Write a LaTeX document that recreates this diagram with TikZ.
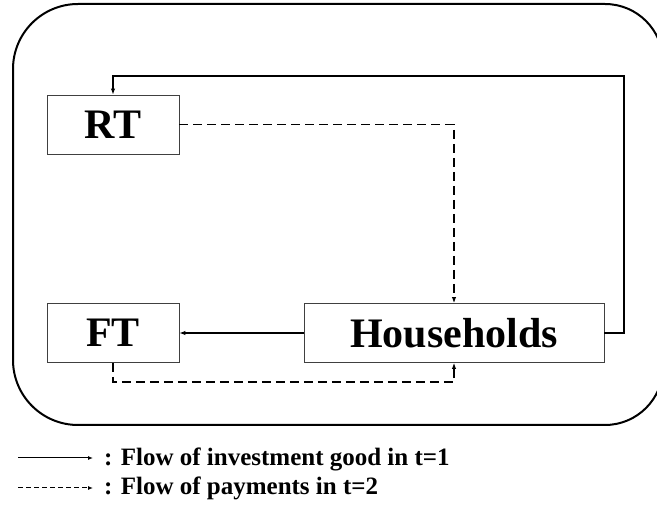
\documentclass[tikz,border=0pt]{standalone}
\usepackage{fontspec}
\setmainfont{Liberation Serif}
\usetikzlibrary{arrows.meta}
\begin{document}
\begin{tikzpicture}[x=1pt,y=-1pt,
  box/.style={draw=black!75,line width=0.9pt,minimum width=132pt,minimum height=59pt,inner sep=0pt,
    font=\fontsize{42}{42}\selectfont\bfseries},
  conn/.style={line width=1.1pt,-{Latex[length=6pt,width=4.5pt]}},
  dconn/.style={conn,dash pattern=on 9pt off 5pt},
  legtxt/.style={anchor=base west,inner sep=0pt,font=\fontsize{25}{25}\selectfont\bfseries}]
\useasboundingbox (0,0) rectangle (657,505);
\draw[line width=2pt] (78,4) -- (605,4) arc[start angle=90,end angle=0,radius=58pt]
  -- (663,367) arc[start angle=0,end angle=-90,radius=58pt]
  -- (78,425) arc[start angle=-90,end angle=-180,radius=65pt]
  -- (13,69) arc[start angle=180,end angle=90,radius=65pt] -- cycle;
\node[box] (rt) at (113,124.5) {RT};
\node[box] (ft) at (113,333) {FT};
\node[box,minimum width=300pt] (hh) at (454,333) {Households};
\coordinate (fbc) at (624,76);
\coordinate (dc) at (300,382);
\draw[conn] (hh.east) -| (fbc) -| (rt.north);
\draw[conn] (hh.west) -- (ft.east);
\draw[dconn] (rt.east) -| (hh.north);
\draw[dconn] (ft.south) |- (dc) -| (hh.south);
\coordinate (l1a) at (18,458);
\coordinate (l1b) at (93,458);
\coordinate (l2a) at (18,488);
\coordinate (l2b) at (93,488);
\node[legtxt] (leg1) at (104,465) {: Flow of investment good in t=1};
\node[legtxt] (leg2) at (104,494) {: Flow of payments in t=2};
\draw[line width=1pt,-{Latex[length=5pt,width=4pt]}] (l1a) -- (l1b);
\draw[line width=1pt,dash pattern=on 5pt off 3pt,-{Latex[length=5pt,width=4pt]}] (l2a) -- (l2b);
\end{tikzpicture}
\end{document}
